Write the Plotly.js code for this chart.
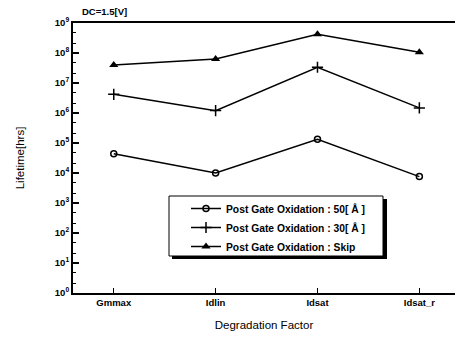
<!DOCTYPE html>
<html>
<head>
<meta charset="utf-8">
<script src="https://cdn.plot.ly/plotly-3.0.1.min.js"></script>
<style>html,body{margin:0;padding:0;background:#fff;}#chart{width:456px;height:345px;}</style>
</head>
<body>
<div id="chart"></div>
<script>
const categories = ["Gmmax", "Idlin", "Idsat", "Idsat_r"];
const seriesNames = ["Post Gate Oxidation : 50[ \u00C5 ]", "Post Gate Oxidation : 30[ \u00C5 ]", "Post Gate Oxidation : Skip"];
const ox50 = [4.4e4, 1.0e4, 1.34e5, 7.6e3];
const ox30 = [4.2e6, 1.2e6, 3.35e7, 1.48e6];
const oxSkip = [4.0e7, 6.3e7, 4.2e8, 1.06e8];
const yTickVals = [1, 10, 100, 1e3, 1e4, 1e5, 1e6, 1e7, 1e8, 1e9];
const yTickText = ["10<sup>0</sup>","10<sup>1</sup>","10<sup>2</sup>","10<sup>3</sup>","10<sup>4</sup>","10<sup>5</sup>","10<sup>6</sup>","10<sup>7</sup>","10<sup>8</sup>","10<sup>9</sup>"];

const font = "Liberation Sans, Arial, sans-serif";
const boldFont = {family: font, size: 9.5, color: "#000", weight: "bold"};

const traces = [
  {x: categories, y: ox50, name: seriesNames[0], mode: "lines+markers", type: "scatter",
   line: {color: "#000", width: 1.5},
   marker: {symbol: "circle-open", size: 6, color: "#000", line: {width: 1.5, color: "#000"}}},
  {x: categories, y: ox30, name: seriesNames[1], mode: "lines+markers", type: "scatter",
   line: {color: "#000", width: 1.5},
   marker: {symbol: "cross-thin", size: 8, color: "#000", line: {width: 1.5, color: "#000"}}},
  {x: categories, y: oxSkip, name: seriesNames[2], mode: "lines+markers", type: "scatter",
   line: {color: "#000", width: 1.5},
   marker: {symbol: "triangle-up", size: 8, color: "#000"}}
];

// plot area in px: left 73, top 23, width 382, height 270.3
const PL = 73, PT = 23, PW = 382, PH = 270;
const px = v => (v - PL) / PW;
const py = v => 1 - (v - PT) / PH;

const layout = {
  width: 456, height: 345,
  margin: {l: 73, r: 1, t: 23, b: 52},
  paper_bgcolor: "#fff", plot_bgcolor: "#fff",
  showlegend: true,
  title: {text: "<b>DC=1.5[V]</b>", font: {family: font, size: 9.5, color: "#000"},
          xref: "container", yref: "container", x: 82/456, xanchor: "left", y: 1 - 12/345, yanchor: "middle"},
  xaxis: {
    type: "category", range: [-0.4, 3.35],
    showline: true, linecolor: "#000", linewidth: 2, mirror: true,
    ticks: "inside", ticklen: 5, tickcolor: "#000", tickwidth: 1,
    showgrid: false, zeroline: false,
    tickfont: boldFont,
    title: {text: "Degradation Factor", font: {family: font, size: 11.5, color: "#000"}, standoff: 14}
  },
  yaxis: {
    type: "log", range: [0, 9],
    showline: true, linecolor: "#000", linewidth: 2,
    ticks: "inside", ticklen: 6, tickcolor: "#000", tickwidth: 1.5,
    tickvals: yTickVals, ticktext: yTickText,
    minor: {ticks: "inside", ticklen: 3, tickcolor: "#000", tickwidth: 1, showgrid: false},
    showgrid: false, zeroline: false,
    tickfont: boldFont,
    title: {text: "Lifetime[hrs]", font: {family: font, size: 11.5, color: "#000"}, standoff: 28}
  },
  yaxis2: {
    type: "log", range: [0, 9], overlaying: "y", side: "right",
    showline: false, ticks: "inside", ticklen: 3, tickcolor: "#000", tickwidth: 1.5,
    tickvals: yTickVals, showticklabels: false, showgrid: false, zeroline: false
  },
  legend: {
    x: px(186), y: py(194), xanchor: "left", yanchor: "top",
    bgcolor: "rgba(0,0,0,0)", borderwidth: 0,
    font: {family: font, size: 10.3, color: "#000", weight: "bold"},
    tracegroupgap: 0, itemwidth: 30
  },
  shapes: [
    {type: "rect", xref: "paper", yref: "paper", layer: "above",
     x0: px(172), x1: px(387), y0: py(259), y1: py(199), fillcolor: "#000", line: {width: 0}},
    {type: "rect", xref: "paper", yref: "paper", layer: "above",
     x0: px(169), x1: px(383), y0: py(256), y1: py(196), fillcolor: "#fff", line: {width: 1, color: "#000"}}
  ]
};

Plotly.newPlot("chart", traces, layout, {displayModeBar: false, staticPlot: true});
</script>
</body>
</html>
